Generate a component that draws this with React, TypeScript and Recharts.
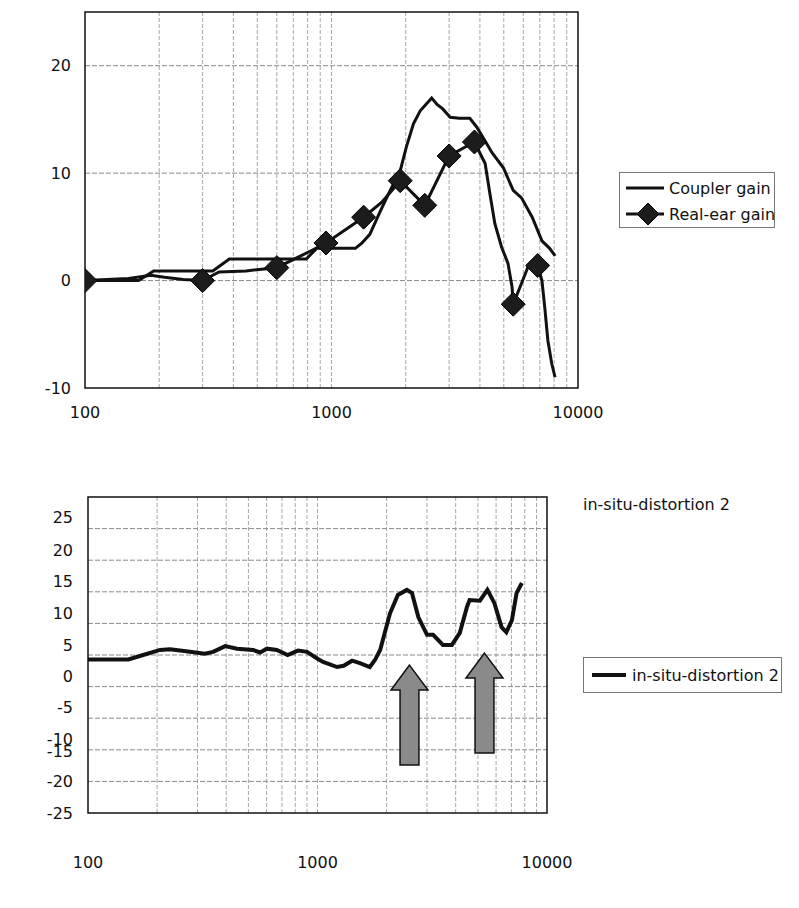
import React from 'react';
import { LineChart, Line, XAxis, YAxis, CartesianGrid, ReferenceArea, Legend } from 'recharts';

// ---------- Top chart data ----------
const couplerName = 'Coupler gain';
const couplerFreq = [100, 165, 190, 330, 385, 790, 870, 1250, 1330, 1430, 1573, 1730, 1900, 2010, 2150, 2290, 2440, 2550, 2680, 2820, 3030, 3300, 3640, 3880, 4200, 4480, 4980, 5460, 5900, 6520, 7140, 7670, 8080];
const couplerGain = [0, 0, 0.9, 0.9, 2.0, 2.0, 3.0, 3.0, 3.5, 4.3, 6.4, 8.4, 10.2, 12.4, 14.6, 15.8, 16.5, 17.0, 16.4, 16.0, 15.2, 15.1, 15.1, 14.3, 13.0, 11.9, 10.5, 8.4, 7.7, 5.9, 3.7, 3.0, 2.3];

const realEarName = 'Real-ear gain';
const realEarFreq = [100, 150, 185, 210, 250, 300, 350, 450, 600, 830, 950, 1350, 1600, 1900, 2390, 3000, 3800, 4200, 4390, 4600, 4900, 5200, 5400, 5460, 6250, 6860, 7140, 7330, 7550, 7820, 8070];
const realEarGain = [0, 0.2, 0.5, 0.3, 0.1, 0, 0.8, 0.9, 1.2, 2.8, 3.5, 5.9, 7.3, 9.3, 7.0, 11.6, 12.9, 10.9, 8.1, 5.3, 3.1, 1.6, -0.6, -2.2, 1.2, 1.4, 0, -2.5, -5.6, -7.7, -9.0];
const realEarMarkerFreq = [100, 300, 600, 950, 1350, 1900, 2390, 3000, 3800, 5460, 6860];

const topYTicks = [-10, 0, 10, 20];
const topYGrid = [0, 10, 20];

// ---------- Bottom chart data ----------
const distName = 'in-situ-distortion 2';
const distFreq = [100, 150, 174, 206, 228, 278, 323, 351, 396, 446, 524, 562, 602, 665, 741, 822, 900, 1000, 1058, 1217, 1300, 1415, 1530, 1690, 1780, 1875, 2070, 2240, 2450, 2580, 2750, 3000, 3190, 3520, 3850, 4170, 4480, 4600, 5100, 5500, 5900, 6340, 6650, 7030, 7370, 7770];
const distLevel = [-0.7, -0.7, 0, 0.8, 0.9, 0.5, 0.2, 0.5, 1.4, 1.0, 0.8, 0.4, 1.0, 0.8, 0, 0.7, 0.5, -0.6, -1.1, -1.9, -1.7, -0.9, -1.3, -1.9, -0.8, 0.8, 6.6, 9.5, 10.3, 9.8, 6.0, 3.2, 3.2, 1.6, 1.6, 3.5, 7.6, 8.7, 8.6, 10.3, 8.2, 4.4, 3.6, 5.5, 9.8, 11.4];

const bottomYGrid = [-20, -15, -10, -5, 0, 5, 10, 15, 20];
const bottomYTickAt = [21.8, 16.6, 11.6, 6.6, 1.6, -3.3, -8.2, -13.3, -15.3, -20, -25];
const bottomYTickLabels = ['25', '20', '15', '10', '5', '0', '-5', '-10', '-15', '-20', '-25'];

const arrowFreqLeft = [2090, 4436];
const arrowFreqRight = [3030, 6430];
const arrowBase = [-17.4, -15.5];
const arrowTip = [-1.6, 0.3];

// ---------- Shared axis data ----------
const xTicks = [100, 1000, 10000];
const xGridValues = [200, 300, 400, 500, 600, 700, 800, 900, 1000, 2000, 3000, 4000, 5000, 6000, 7000, 8000, 9000];

const couplerData = couplerFreq.map((f, i) => ({ f, v: couplerGain[i] }));
const realEarData = realEarFreq.map((f, i) => ({ f, v: realEarGain[i] }));
const distData = distFreq.map((f, i) => ({ f, v: distLevel[i] }));

const FONT = 'DejaVu Sans';
const tickStyle = { fontSize: 16, fill: '#111', fontFamily: FONT };

const Diamond = ({ cx, cy, r }: { cx: number; cy: number; r: number }) => (
  <polygon
    points={`${cx},${cy - r} ${cx + r},${cy} ${cx},${cy + r} ${cx - r},${cy}`}
    fill="#1c1c1c"
    stroke="#000"
    strokeWidth={1}
  />
);

const renderRealEarDot = (props: any) => {
  const { cx, cy, payload, index } = props;
  if (!realEarMarkerFreq.includes(payload.f)) return <g key={`d-${index}`} />;
  return (
    <g key={`d-${index}`}>
      <Diamond cx={cx} cy={cy} r={12} />
    </g>
  );
};

const ArrowShape = (props: any) => {
  const { x, y, width, height } = props;
  const cx = x + width / 2;
  const headH = height * 0.25;
  const sl = x + width * 0.245;
  const sr = x + width * 0.755;
  const pts = `${cx},${y} ${x + width},${y + headH} ${sr},${y + headH} ${sr},${y + height} ${sl},${y + height} ${sl},${y + headH} ${x},${y + headH}`;
  return <polygon points={pts} fill="#8a8a8a" stroke="#111" strokeWidth={1.5} />;
};

const TopLegend = (props: any) => {
  const payload = props.payload || [];
  return (
    <div
      style={{
        border: '1px solid #777',
        width: 156,
        height: 56,
        boxSizing: 'border-box',
        paddingTop: 2,
        fontFamily: FONT,
        fontSize: 16,
        color: '#111',
        background: '#fff',
      }}
    >
      {payload.map((entry: any, i: number) => (
        <div key={i} style={{ display: 'flex', alignItems: 'center', height: 26, whiteSpace: 'nowrap' }}>
          <svg width={48} height={26} style={{ flex: 'none' }}>
            <line x1={6} y1={13} x2={44} y2={13} stroke="#111" strokeWidth={3} />
            {entry.value === realEarName && <Diamond cx={28} cy={13} r={11} />}
          </svg>
          <span style={{ marginLeft: 1 }}>{entry.value}</span>
        </div>
      ))}
    </div>
  );
};

const BottomLegend = (props: any) => {
  const payload = props.payload || [];
  return (
    <div
      style={{
        border: '1px solid #777',
        width: 199,
        height: 36,
        boxSizing: 'border-box',
        fontFamily: FONT,
        fontSize: 16,
        color: '#111',
        background: '#fff',
      }}
    >
      {payload.map((entry: any, i: number) => (
        <div key={i} style={{ display: 'flex', alignItems: 'center', height: 34, whiteSpace: 'nowrap' }}>
          <svg width={48} height={20} style={{ flex: 'none' }}>
            <line x1={8} y1={10} x2={42} y2={10} stroke="#111" strokeWidth={4} />
          </svg>
          <span>{entry.value}</span>
        </div>
      ))}
    </div>
  );
};

export default function App() {
  return (
    <div style={{ position: 'absolute', left: 0, top: 0, width: 799, height: 908, background: '#fff', fontFamily: FONT }}>
      <div style={{ position: 'absolute', left: 0, top: 0 }}>
        <LineChart width={799} height={440} margin={{ top: 12, right: 221, bottom: 12, left: 40 }}>
          <CartesianGrid horizontal={false} verticalValues={xGridValues} stroke="#a8a8a8" strokeDasharray="4 2" strokeWidth={1} />
          <CartesianGrid vertical={false} horizontalValues={topYGrid} stroke="#8a8a8a" strokeDasharray="5 2" strokeWidth={1} />
          <XAxis
            dataKey="f"
            type="number"
            scale="log"
            domain={[100, 10000]}
            ticks={xTicks}
            interval={0}
            allowDataOverflow
            axisLine={false}
            tickLine={false}
            tickSize={0}
            tickMargin={19}
            height={40}
            tick={tickStyle}
          />
          <YAxis
            type="number"
            domain={[-10, 25]}
            ticks={topYTicks}
            interval={0}
            allowDataOverflow
            axisLine={false}
            tickLine={false}
            tickSize={0}
            tickMargin={14}
            width={45}
            tick={tickStyle}
          />
          <ReferenceArea x1={100} x2={10000} y1={-10} y2={25} fill="none" stroke="#111" strokeWidth={1.5} ifOverflow="visible" />
          <Line
            data={couplerData}
            dataKey="v"
            name={couplerName}
            type="linear"
            stroke="#111"
            strokeWidth={3}
            dot={false}
            activeDot={false}
            isAnimationActive={false}
          />
          <Line
            data={realEarData}
            dataKey="v"
            name={realEarName}
            type="linear"
            stroke="#111"
            strokeWidth={3}
            dot={renderRealEarDot}
            activeDot={false}
            isAnimationActive={false}
          />
          <Legend
            layout="vertical"
            align="center"
            verticalAlign="middle"
            content={TopLegend}
            wrapperStyle={{ left: 619, top: 172, width: 156, height: 56 }}
          />
        </LineChart>
      </div>

      <div style={{ position: 'absolute', left: 583, top: 495, fontFamily: FONT, fontSize: 16, color: '#111', whiteSpace: 'nowrap' }}>
        {distName}
      </div>

      <div style={{ position: 'absolute', left: 0, top: 460 }}>
        <LineChart width={799} height={448} margin={{ top: 37, right: 252, bottom: 25, left: 40 }}>
          <CartesianGrid horizontal={false} verticalValues={xGridValues} stroke="#a8a8a8" strokeDasharray="4 2" strokeWidth={1} />
          <CartesianGrid vertical={false} horizontalValues={bottomYGrid} stroke="#8a8a8a" strokeDasharray="5 2" strokeWidth={1} />
          <XAxis
            dataKey="f"
            type="number"
            scale="log"
            domain={[100, 10000]}
            ticks={xTicks}
            interval={0}
            allowDataOverflow
            axisLine={false}
            tickLine={false}
            tickSize={0}
            tickMargin={44}
            height={70}
            tick={tickStyle}
          />
          <YAxis
            type="number"
            domain={[-25, 25]}
            ticks={bottomYTickAt}
            interval={0}
            allowDataOverflow
            axisLine={false}
            tickLine={false}
            tickSize={0}
            tickMargin={15}
            width={48}
            tick={tickStyle}
            tickFormatter={(v: number) => {
              const i = bottomYTickAt.indexOf(v);
              return i >= 0 ? bottomYTickLabels[i] : '';
            }}
          />
          <ReferenceArea x1={100} x2={10000} y1={-25} y2={25} fill="none" stroke="#111" strokeWidth={1.5} ifOverflow="visible" />
          {arrowFreqLeft.map((fl, i) => (
            <ReferenceArea
              key={`arrow-${i}`}
              x1={fl}
              x2={arrowFreqRight[i]}
              y1={arrowBase[i]}
              y2={arrowTip[i]}
              ifOverflow="visible"
              shape={ArrowShape}
            />
          ))}
          <Line
            data={distData}
            dataKey="v"
            name={distName}
            type="linear"
            stroke="#111"
            strokeWidth={4}
            dot={false}
            activeDot={false}
            isAnimationActive={false}
          />
          <Legend
            layout="vertical"
            align="center"
            verticalAlign="middle"
            content={BottomLegend}
            wrapperStyle={{ left: 583, top: 197, width: 199, height: 36 }}
          />
        </LineChart>
      </div>
    </div>
  );
}
